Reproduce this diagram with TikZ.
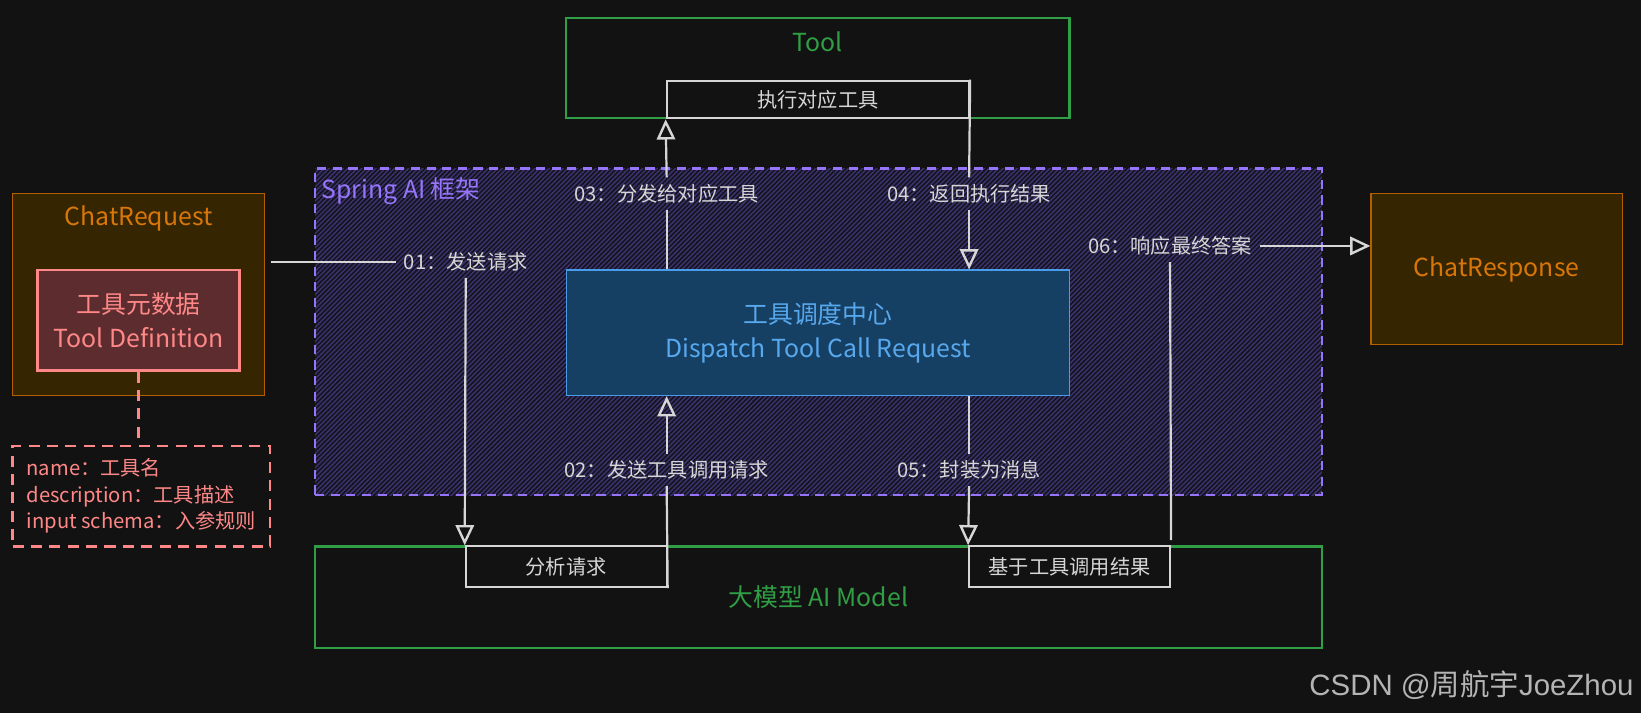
\documentclass[tikz,border=0pt]{standalone}
\usepackage{fontspec}
\setmainfont{Noto Sans CJK SC}
\newfontfamily\wmfont{Liberation Sans}
\usepackage{xcolor}
\usetikzlibrary{arrows.meta,positioning,patterns.meta}

\definecolor{bg}{HTML}{121212}
\definecolor{linegray}{HTML}{D6D6D6}
\definecolor{grn}{HTML}{2F9E44}
\definecolor{orgline}{HTML}{B35F00}
\definecolor{orgfill}{HTML}{352500}
\definecolor{orgtext}{HTML}{D9760A}
\definecolor{redline}{HTML}{FF8787}
\definecolor{redfill}{HTML}{5C2C2F}
\definecolor{bluefill}{HTML}{164063}
\definecolor{blueline}{HTML}{4A9CE8}
\definecolor{bluetext}{HTML}{58A8EE}
\definecolor{purp}{HTML}{9775FA}
\definecolor{hatchln}{HTML}{3A3270}
\definecolor{hatchbg}{HTML}{15141C}
\definecolor{wmgray}{HTML}{B4B4B4}

\newlength{\pxu}\setlength{\pxu}{0.02cm}

\begin{document}
\begin{tikzpicture}[x=0.02cm, y=-0.02cm, font=\fontsize{11}{14}\selectfont]
    \tikzset{
      box/.style={draw, rectangle, inner sep=0pt},
      big/.style={font=\fontsize{13.5}{18.5}\selectfont},
      ttl/.style={big, inner sep=0pt},
      orgbox/.style={box, draw=orgline, fill=orgfill, line width=0.6pt, text=orgtext, big},
      grnbox/.style={box, draw=grn, line width=1.3pt, text=grn, big},
      whtbox/.style={box, draw=linegray, fill=bg, line width=1.1pt, text=linegray},
      lab/.style={text=linegray, inner xsep=4pt, inner ysep=3.5pt},
      flow/.style={draw=linegray, line width=1.2pt},
      tip/.style={flow, -{Triangle[open, length=11pt, width=10pt, line width=1.3pt]}},
    }
    \fill[bg] (0,0) rectangle (1568,681);
    \useasboundingbox (0,0) rectangle (1568,681);

    % framework area
    \node[box, minimum width=962\pxu, minimum height=312\pxu,
          preaction={fill=hatchbg},
          pattern={Lines[angle=45, distance=1.8pt, line width=0.8pt]}, pattern color=hatchln,
          draw=purp, line width=1.1pt, dash pattern=on 5pt off 3.5pt] (spring) at (782,317) {};
    \node[ttl, text=purp, anchor=west] (springlab) at ([xshift=7\pxu, yshift=-23\pxu]spring.north west) {Spring AI 框架};

    % request side
    \node[orgbox, minimum width=241\pxu, minimum height=193\pxu] (chatreq) at (132.5,281.5) {};
    \node[ttl, text=orgtext] (chatreqlab) at ([yshift=-24\pxu]chatreq.north) {ChatRequest};
    \node[box, draw=redline, fill=redfill, line width=1.3pt, text=redline, big, align=center,
          minimum width=193\pxu, minimum height=96\pxu] (tooldef) at (132.5,306) {工具元数据\\Tool Definition};
    \node[box, draw=redline, line width=1.3pt, dash pattern=on 6pt off 4pt, text=redline,
          align=left, font=\fontsize{11}{14.5}\selectfont,
          minimum width=246\pxu, minimum height=96\pxu] (note) at (135,474)
          {name：工具名\\description：工具描述\\input schema：入参规则};
    \draw[draw=redline, line width=1.3pt, dash pattern=on 6pt off 4pt] (tooldef.south) -- (tooldef.south |- note.north);

    % tool
    \node[grnbox, minimum width=481\pxu, minimum height=96\pxu] (tool) at (781.5,65) {};
    \node[ttl, text=grn] (toollab) at ([yshift=-24\pxu]tool.north) {Tool};
    \node[whtbox, minimum width=289\pxu, minimum height=36\pxu] (exec) at (781.5,95) {执行对应工具};

    % dispatcher
    \node[box, draw=blueline, fill=bluefill, line width=0.6pt, text=bluetext, big, align=center,
          minimum width=481\pxu, minimum height=120\pxu] (disp) at (781.5,318)
          {工具调度中心\\Dispatch Tool Call Request};

    % response
    \node[orgbox, minimum width=240\pxu, minimum height=144\pxu] (resp) at (1430,257) {ChatResponse};

    % model
    \node[grnbox, minimum width=962\pxu, minimum height=97\pxu] (model) at (782,570.5) {大模型 AI Model};
    \node[whtbox, minimum width=192\pxu, minimum height=39\pxu] (ana) at (541,541.5) {分析请求};
    \node[whtbox, minimum width=192\pxu, minimum height=39\pxu] (res) at (1022,541.5) {基于工具调用结果};

    % flow labels
    \node[lab] (l01) at (445,250) {01：发送请求};
    \node[lab] (l02) at (637,449) {02：发送工具调用请求};
    \node[lab] (l03) at (637,185) {03：分发给对应工具};
    \node[lab] (l04) at (926,185) {04：返回执行结果};
    \node[lab] (l05) at (926,449) {05：封装为消息};
    \node[lab] (l06) at (1118,235) {06：响应最终答案};

    % flows
    \draw[flow, shorten <=5\pxu] (chatreq.east |- l01) -- (l01.west);
    \draw[tip] (l01.south) -- (ana.north west);
    \draw[flow] (ana.south east) -- (l02.south);
    \draw[tip] (l02.north) -- (disp.south -| l02);
    \draw[flow] (disp.north -| l03) -- (l03.south);
    \draw[tip] (l03.north) -- (exec.south west);
    \draw[flow] (exec.north east) -- (l04.north);
    \draw[tip] (l04.south) -- (disp.north -| l04);
    \draw[flow] (disp.south -| l05) -- (l05.north);
    \draw[tip] (l05.south) -- (res.north west);
    \draw[flow, shorten <=5\pxu] (res.north east) -- (l06.south);
    \draw[tip] (l06.east) -- (resp.west |- l06);

    \node[text=wmgray, font=\fontsize{16}{19}\selectfont] (wm) at (1406,655) {\wmfont CSDN @\rmfamily 周航宇\wmfont JoeZhou};
  \end{tikzpicture}
\end{document}
